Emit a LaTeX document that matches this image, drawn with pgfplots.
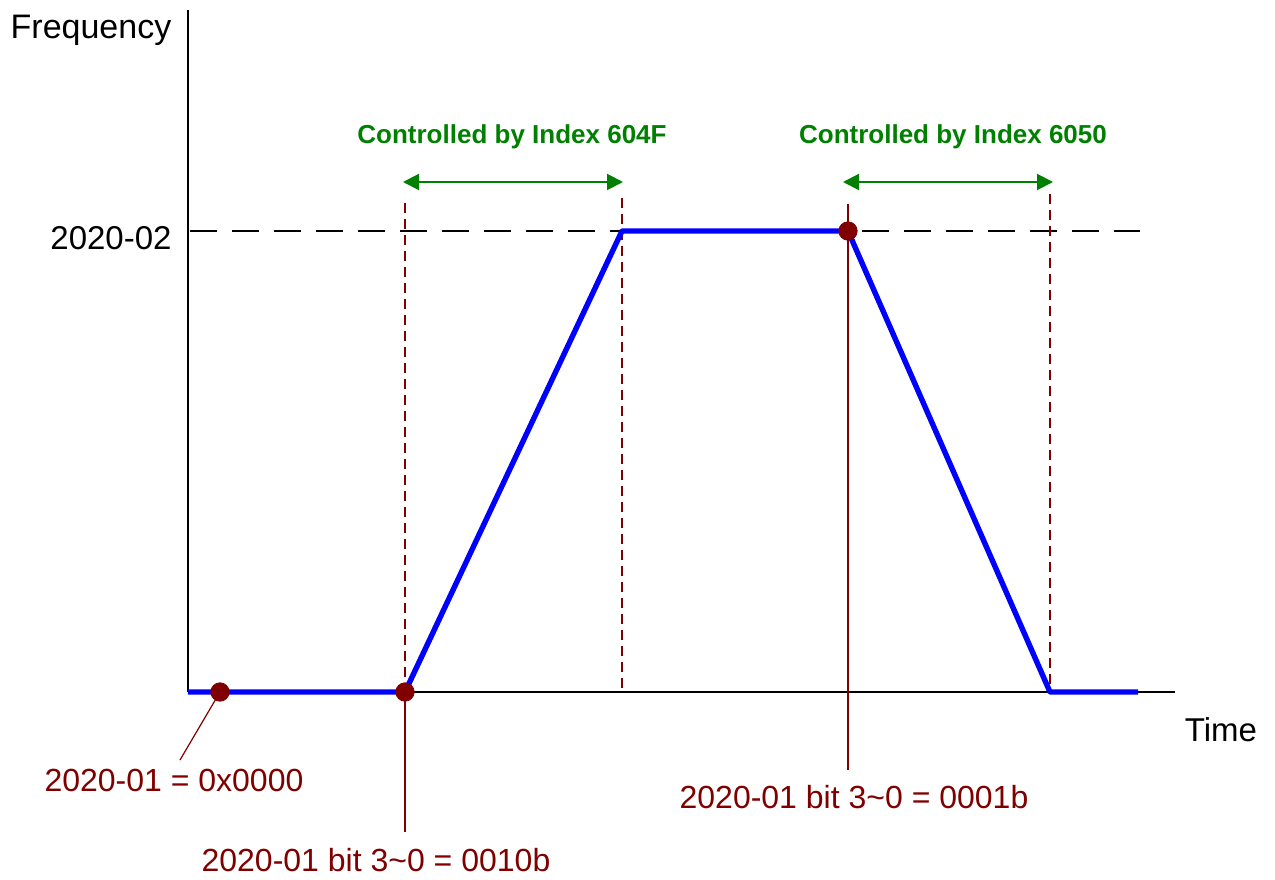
\documentclass[border=0pt]{standalone}
\usepackage{pgfplots}
\pgfplotsset{compat=1.18}
\usepackage{fontspec}
\setmainfont{Liberation Sans}
\usetikzlibrary{arrows.meta}
\definecolor{dred}{RGB}{128,0,0}
\definecolor{dgreen}{RGB}{0,128,0}
\begin{document}
\begin{tikzpicture}
\begin{axis}[
  scale only axis,
  width=493.5pt, height=341pt,
  xmin=188, xmax=1175, ymin=187, ymax=869,
  axis lines=left,
  axis line style={-, line width=1pt, black},
  xtick=\empty, ytick=\empty,
  clip=false,
]
% bounding region of the full picture
\path (axis cs:0,0) rectangle (axis cs:1275,879);
% reference dashed level
\addplot[black, line width=1pt, dash pattern=on 13.5pt off 7.5pt] coordinates {(190,648) (1140,648)};
% dark red dashed verticals
\addplot[dred, line width=0.8pt, dash pattern=on 5pt off 3pt] coordinates {(405,676) (405,187)};
\addplot[dred, line width=0.8pt, dash pattern=on 5pt off 3pt] coordinates {(622,681) (622,187)};
\addplot[dred, line width=0.8pt, dash pattern=on 5pt off 3pt] coordinates {(1050,685) (1050,187)};
% dark red solid markers
\addplot[dred, line width=0.8pt] coordinates {(405,187) (405,47)};
\addplot[dred, line width=0.8pt] coordinates {(848,675) (848,109)};
\addplot[dred, line width=0.6pt] coordinates {(220,187) (180,119)};
% frequency profile
\addplot[blue, line width=2.7pt, line join=round] coordinates {(188,187) (405,187) (622,648) (848,648) (1050,187) (1138,187)};
% points
\addplot[only marks, mark=*, mark size=4.6pt, dred, mark options={fill=dred, draw=dred}] coordinates {(220,187) (405,187) (848,648)};
% green range arrows
\draw[dgreen, line width=1pt, {Triangle[length=8pt,width=8pt]}-{Triangle[length=8pt,width=8pt]}] (axis cs:403,697) -- (axis cs:623,697);
\draw[dgreen, line width=1pt, {Triangle[length=8pt,width=8pt]}-{Triangle[length=8pt,width=8pt]}] (axis cs:843,697) -- (axis cs:1053,697);
% texts
\node[font=\fontsize{13}{15}\selectfont\bfseries, text=dgreen] at (axis cs:512,742) {Controlled by Index 604F};
\node[font=\fontsize{13}{15}\selectfont\bfseries, text=dgreen] at (axis cs:953,742) {Controlled by Index 6050};
\node[font=\fontsize{17}{20}\selectfont] at (axis cs:91,849) {Frequency};
\node[font=\fontsize{16.5}{19}\selectfont] at (axis cs:111,641) {2020-02};
\node[font=\fontsize{16.5}{19}\selectfont] at (axis cs:1221,149) {Time};
\node[font=\fontsize{16}{19}\selectfont, text=dred] at (axis cs:174,99) {2020-01 = 0x0000};
\node[font=\fontsize{16}{19}\selectfont, text=dred] at (axis cs:376,19) {2020-01 bit 3\textasciitilde0 = 0010b};
\node[font=\fontsize{16}{19}\selectfont, text=dred] at (axis cs:854,82) {2020-01 bit 3\textasciitilde0 = 0001b};
\end{axis}
\end{tikzpicture}
\end{document}
